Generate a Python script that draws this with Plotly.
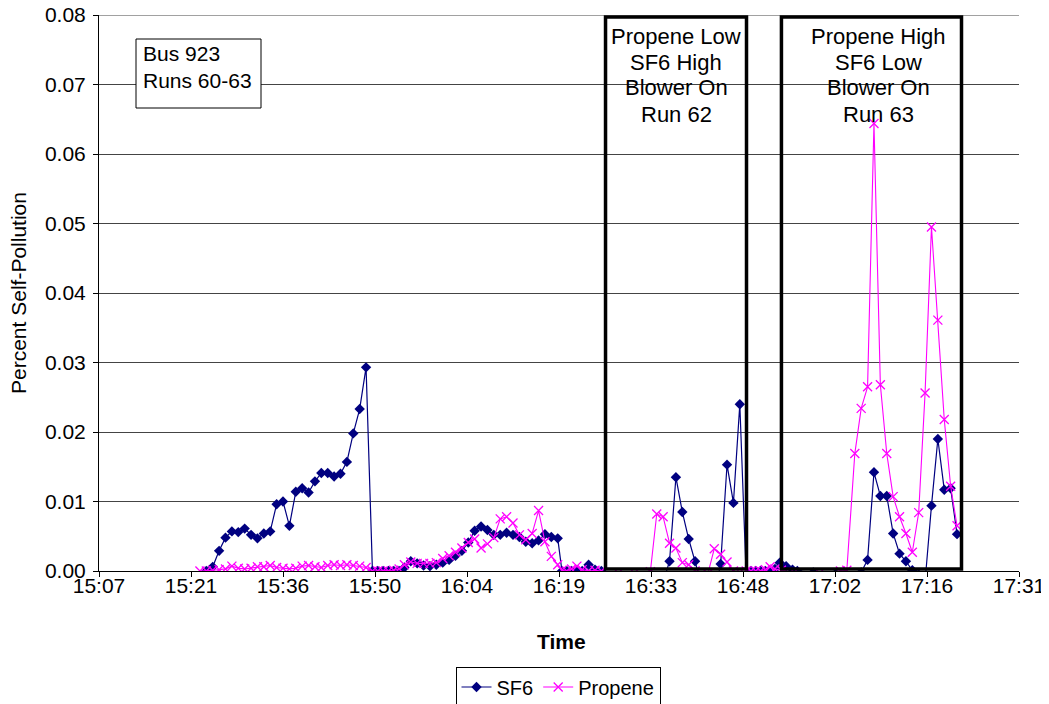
import plotly.graph_objects as go

# ---------------- data ----------------
sf6_time = [
    "15:24:00", "15:25:00", "15:26:00", "15:27:00", "15:28:00", "15:29:00", "15:30:00",
    "15:31:00", "15:32:00", "15:33:00", "15:34:00", "15:35:00", "15:36:00", "15:37:00",
    "15:38:00", "15:39:00", "15:40:00", "15:41:00", "15:42:00", "15:43:00", "15:44:00",
    "15:45:00", "15:46:00", "15:47:00", "15:48:00", "15:49:00", "15:50:00",
    "15:50:50", "15:51:40", "15:52:30", "15:53:20", "15:54:10",
    "15:55:00", "15:56:00", "15:57:00", "15:58:00", "15:59:00", "16:00:00", "16:01:00",
    "16:02:00", "16:03:00", "16:04:00", "16:05:00", "16:06:00", "16:07:00", "16:08:00",
    "16:09:00", "16:10:00", "16:11:00", "16:12:00", "16:13:00", "16:14:00", "16:15:00",
    "16:16:00", "16:17:00", "16:18:00", "16:19:00",
    "16:19:40", "16:20:25", "16:21:10", "16:22:00", "16:22:50", "16:23:50", "16:24:50",
    "16:25:50", "16:27:30", "16:30:00", "16:33:00", "16:35:30",
    "16:36:30", "16:37:30", "16:38:30", "16:39:30", "16:40:30", "16:41:30", "16:42:30",
    "16:43:30", "16:44:30", "16:45:30", "16:46:30", "16:47:30", "16:48:30",
    "16:49:15", "16:50:00", "16:50:45", "16:51:30", "16:52:15", "16:53:00", "16:53:45",
    "16:54:45", "16:55:45", "16:56:30", "16:59:00", "17:02:30", "17:06:30",
    "17:07:30", "17:08:30", "17:09:30", "17:10:30", "17:11:30", "17:12:30", "17:13:30",
    "17:14:30", "17:15:30", "17:16:30", "17:17:30", "17:18:30", "17:19:30", "17:20:30",
    "17:21:30",
]
sf6_values = [
    0.0, 0.0006, 0.0029, 0.0048, 0.0057, 0.0056, 0.0061,
    0.0052, 0.0047, 0.0054, 0.0057, 0.0096, 0.0100, 0.0065,
    0.0114, 0.0119, 0.0113, 0.0129, 0.0141, 0.0141, 0.0136,
    0.0140, 0.0157, 0.0198, 0.0233, 0.0293, 0.0,
    0.0, 0.0, 0.0, 0.0, 0.0,
    0.0005, 0.0014, 0.0011, 0.0008, 0.0007, 0.0009, 0.0012,
    0.0016, 0.0022, 0.0029, 0.0041, 0.0058, 0.0064, 0.0059,
    0.0052, 0.0052, 0.0055, 0.0052, 0.0049, 0.0042, 0.0040,
    0.0044, 0.0053, 0.0049, 0.0047,
    0.0, 0.0, 0.0, 0.0, 0.0, 0.0009, 0.0002,
    0.0, -0.0010, -0.0020, -0.0020, -0.0016,
    0.0014, 0.0135, 0.0085, 0.0046, 0.0014, -0.0019, -0.0030,
    -0.0033, 0.0010, 0.0153, 0.0098, 0.0240, -0.0008,
    0.0, 0.0, 0.0, 0.0, 0.0, 0.0003, 0.0012,
    0.0007, 0.0002, 0.0, -0.0002, -0.0004, -0.0002,
    0.0016, 0.0142, 0.0108, 0.0108, 0.0054, 0.0025, 0.0014,
    0.0001, -0.0005, -0.0015, 0.0094, 0.0190, 0.0117, 0.0119,
    0.0053,
]

propene_time = [
    "15:23:00", "15:24:00", "15:25:00", "15:26:00", "15:27:00", "15:28:00", "15:29:00",
    "15:30:00", "15:31:00", "15:32:00", "15:33:00", "15:34:00", "15:35:00", "15:36:00",
    "15:37:00", "15:38:00", "15:39:00", "15:40:00", "15:41:00", "15:42:00", "15:43:00",
    "15:44:00", "15:45:00", "15:46:00", "15:47:00", "15:48:00", "15:49:00", "15:50:00",
    "15:50:50", "15:51:40", "15:52:30", "15:53:20", "15:54:10",
    "15:55:00", "15:56:00", "15:57:00", "15:58:00", "15:59:00", "16:00:00", "16:01:00",
    "16:02:00", "16:03:00", "16:04:00", "16:05:00", "16:06:00", "16:07:00", "16:08:00",
    "16:09:00", "16:10:00", "16:11:00", "16:12:00", "16:13:00", "16:14:00", "16:15:00",
    "16:16:00", "16:17:00", "16:18:00", "16:19:00",
    "16:19:40", "16:20:25", "16:21:10", "16:22:00", "16:22:50", "16:23:50", "16:24:50",
    "16:25:50", "16:28:30", "16:31:00", "16:33:30",
    "16:34:30", "16:35:30", "16:36:30", "16:37:30", "16:38:30", "16:39:30", "16:40:30",
    "16:41:30", "16:42:30", "16:43:30", "16:44:30", "16:45:30", "16:46:30", "16:47:30",
    "16:48:30", "16:49:15", "16:50:00", "16:50:45", "16:51:30", "16:52:15", "16:53:00",
    "16:54:00", "16:56:00", "17:00:00", "17:03:15", "17:04:15",
    "17:05:30", "17:06:30", "17:07:30", "17:08:30", "17:09:30", "17:10:30", "17:11:30",
    "17:12:30", "17:13:30", "17:14:30", "17:15:30", "17:16:30", "17:17:30", "17:18:30",
    "17:19:30", "17:20:30", "17:21:30",
]
propene_values = [
    0.0, 0.0, 0.0001, 0.0002, 0.0003, 0.0007, 0.0004,
    0.0003, 0.0004, 0.0006, 0.0006, 0.0008, 0.0005, 0.0004,
    0.0003, 0.0004, 0.0007, 0.0008, 0.0006, 0.0005, 0.0008,
    0.0009, 0.0008, 0.0009, 0.0008, 0.0007, 0.0005, 0.0,
    0.0, 0.0, 0.0, 0.0001, 0.0003,
    0.0009, 0.0013, 0.0011, 0.0011, 0.0011, 0.0012, 0.0018,
    0.0022, 0.0027, 0.0033, 0.0041, 0.0046, 0.0033, 0.0039,
    0.0048, 0.0075, 0.0078, 0.0069, 0.0052, 0.0045, 0.0054,
    0.0087, 0.0042, 0.0021, 0.0009,
    0.0001, 0.0, 0.0003, 0.0007, 0.0002, 0.0, 0.0001,
    0.0, -0.0003, -0.0003, -0.0001,
    0.0082, 0.0078, 0.0040, 0.0033, 0.0012, 0.0009, 0.0,
    -0.0004, -0.0004, 0.0032, 0.0024, 0.0013, 0.0, -0.0002,
    0.0, 0.0, 0.0, 0.0, 0.0002, 0.0006, 0.0003,
    0.0001, -0.0002, -0.0003, 0.0, 0.0001,
    0.0169, 0.0234, 0.0265, 0.0644, 0.0268, 0.0169, 0.0107,
    0.0078, 0.0054, 0.0027, 0.0084, 0.0256, 0.0495, 0.0361,
    0.0218, 0.0122, 0.0065,
]

x_tick_labels = ["15:07", "15:21", "15:36", "15:50", "16:04", "16:19",
                 "16:33", "16:48", "17:02", "17:16", "17:31"]
x_tick_values = [0.63, 0.64, 0.65, 0.66, 0.67, 0.68, 0.69, 0.70, 0.71, 0.72, 0.73]
y_tick_values = [0.0, 0.01, 0.02, 0.03, 0.04, 0.05, 0.06, 0.07, 0.08]
y_tick_labels = ["0.00", "0.01", "0.02", "0.03", "0.04", "0.05", "0.06", "0.07", "0.08"]

box_run62_lines = ["Propene Low", "SF6 High", "Blower On", "Run 62"]
box_run63_lines = ["Propene High", "SF6 Low", "Blower On", "Run 63"]
info_lines = ["Bus 923", "Runs 60-63"]


def day_fraction(t):
    h, m, s = (int(v) for v in t.split(":"))
    return h / 24 + m / 1440 + s / 86400


FONT = "Arial, 'Liberation Sans', sans-serif"
FS = 21
FS_BOX = 22
FS_LEG = 20
GRID = "#444444"

fig = go.Figure()
fig.add_trace(go.Scatter(
    x=[day_fraction(t) for t in sf6_time], y=sf6_values, name="SF6",
    mode="lines+markers",
    line=dict(color="#000080", width=1.2),
    marker=dict(symbol="diamond", size=8, color="#000080"),
))
fig.add_trace(go.Scatter(
    x=[day_fraction(t) for t in propene_time], y=propene_values, name="Propene",
    mode="lines+markers",
    line=dict(color="#FF00FF", width=1.1),
    marker=dict(symbol="x-thin", size=9, color="#FF00FF",
                line=dict(color="#FF00FF", width=1.3)),
))

# top gridline (plotly drops the gridline at the very edge of the range)
fig.add_shape(type="line", xref="paper", yref="y", x0=0, x1=1,
              y0=y_tick_values[-1], y1=y_tick_values[-1],
              line=dict(color=GRID, width=1), layer="below")

# thick run boxes (data coordinates)
for x0, x1 in [("16:26:29", "16:48:33"), ("16:54:01", "17:22:12")]:
    fig.add_shape(type="rect", xref="x", yref="y",
                  x0=day_fraction(x0), x1=day_fraction(x1), y0=0.0003, y1=0.0797,
                  line=dict(color="black", width=3.5), fillcolor="rgba(0,0,0,0)",
                  layer="above")

# reference-image plot area (page pixels); page body adds an 8px offset
L, R, T, B = 99, 1019, 15, 571
OFF = 8
W, H = R - L, B - T


def px(x):
    return (x - L) / W


def py(y):
    return (B - y) / H


line_y = [37, 62.5, 88, 114]
for lines, cx in [(box_run62_lines, 676), (box_run63_lines, 878)]:
    for txt, yy in zip(lines, line_y):
        fig.add_annotation(x=px(cx), y=py(yy), xref="paper", yref="paper",
                           text=txt, showarrow=False, xanchor="center",
                           yanchor="middle", font=dict(family=FONT, size=FS_BOX, color="black"))

# info box
fig.add_shape(type="rect", xref="paper", yref="paper",
              x0=px(136), x1=px(261), y0=py(108), y1=py(39),
              line=dict(color="black", width=1), fillcolor="white", layer="above")
for txt, yy in zip(info_lines, [53, 80]):
    fig.add_annotation(x=px(141), y=py(yy), xref="paper", yref="paper",
                       text=txt, showarrow=False, xanchor="left", yanchor="middle",
                       font=dict(family=FONT, size=FS, color="black"))

# axis titles
fig.add_annotation(x=px(18), y=py(293), xref="paper", yref="paper",
                   text="Percent Self-Pollution", textangle=-90, showarrow=False,
                   xanchor="center", yanchor="middle",
                   font=dict(family=FONT, size=FS, color="black"))
fig.add_annotation(x=px(561), y=py(641), xref="paper", yref="paper",
                   text="<b>Time</b>", showarrow=False,
                   xanchor="center", yanchor="middle",
                   font=dict(family=FONT, size=FS, color="black"))

fig.update_layout(
    width=1049, height=704,
    margin=dict(l=L - OFF, r=1049 - R + OFF, t=T - OFF, b=704 - B + OFF, autoexpand=False),
    paper_bgcolor="white", plot_bgcolor="white",
    font=dict(family=FONT, size=FS, color="black"),
    showlegend=True,
    legend=dict(orientation="h", x=px(558), xanchor="center", y=py(687), yanchor="middle",
                bordercolor="black", borderwidth=1, bgcolor="white",
                font=dict(family=FONT, size=FS_LEG), itemwidth=30, tracegroupgap=0),
    xaxis=dict(range=[0.63, 0.73], tickmode="array", tickvals=x_tick_values,
               ticktext=x_tick_labels, showgrid=False, zeroline=False,
               showline=True, linecolor="black", linewidth=1,
               ticks="outside", ticklen=5, tickcolor="black",
               ticklabelstandoff=-9, automargin=False,
               tickfont=dict(family=FONT, size=FS)),
    yaxis=dict(range=[0, 0.08000001], tickmode="array", tickvals=y_tick_values,
               ticktext=y_tick_labels, ticklabeloverflow="allow",
               showgrid=True, gridcolor=GRID, gridwidth=1, zeroline=False,
               showline=True, linecolor="black", linewidth=1,
               ticks="outside", ticklen=5, tickcolor="black",
               ticklabelstandoff=3, automargin=False,
               tickfont=dict(family=FONT, size=FS)),
)

fig.write_html("out.html")
